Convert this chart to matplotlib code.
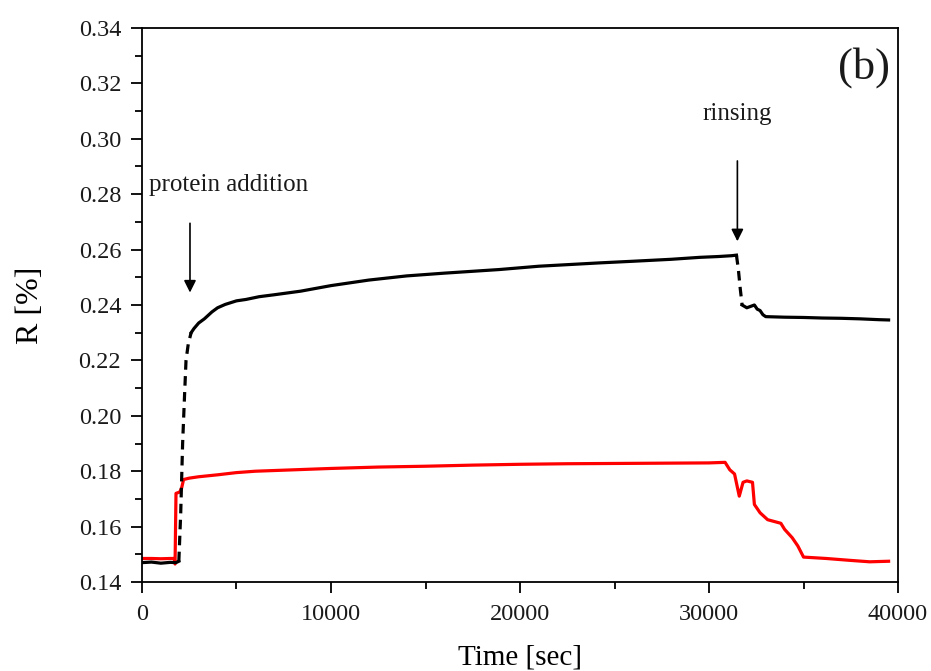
import matplotlib.pyplot as plt
import numpy as np
from matplotlib.ticker import MultipleLocator

plt.rcParams['font.family'] = ['Liberation Serif', 'DejaVu Serif']
plt.rcParams['text.color'] = '#1a1a1a'

# black curve
t_black = [0, 500, 1000, 1500, 1800, 1950]
r_black = [0.1470, 0.1472, 0.1468, 0.1471, 0.1470, 0.1475]
# steep rise (drawn dashed in the original)
t_rise = [1950, 2050, 2150, 2250, 2330, 2450, 2600]
r_rise = [0.1475, 0.165, 0.190, 0.207, 0.220, 0.226, 0.230]
t_black2 = [2600, 2750, 3000, 3300, 3700, 4000, 4400, 5000, 5500, 6200, 7000, 8400,
            10000, 12000, 14000, 16000, 18900, 21000, 24200, 26000, 28000, 29500,
            30500, 31200, 31450]
r_black2 = [0.230, 0.2315, 0.2335, 0.235, 0.2375, 0.2390, 0.2402, 0.2415, 0.2420,
            0.2430, 0.2437, 0.2450, 0.2470, 0.2490, 0.2505, 0.2515, 0.2528, 0.2540,
            0.2552, 0.2558, 0.2565, 0.2572, 0.2575, 0.2578, 0.2580]
# drop after rinsing
t_drop = [31450, 31550, 31650, 31750]
r_drop = [0.2580, 0.2530, 0.2460, 0.2400]
t_black3 = [31750, 32000, 32200, 32400, 32550, 32700, 32850, 33000, 33500, 34000,
            35000, 36000, 37000, 38000, 39000, 39500]
r_black3 = [0.2400, 0.2390, 0.2395, 0.2400, 0.2385, 0.2380, 0.2365, 0.2358, 0.2357,
            0.2356, 0.2355, 0.2353, 0.2352, 0.2350, 0.2347, 0.2346]

# red curve
t_red = [0, 500, 1000, 1500, 1700, 1750, 1800, 2000, 2100, 2200, 2500, 3000, 4000,
         5000, 6000, 8000, 10000, 12500, 15000, 17500, 20000, 22500, 25000, 27500,
         30000, 30850, 31100, 31350, 31600, 31800, 32000, 32300, 32400, 32700, 33100,
         33800, 34000, 34400, 34700, 35000, 36200, 37500, 38500, 39500]
r_red = [0.1485, 0.1485, 0.1484, 0.1485, 0.1485, 0.1465, 0.1720, 0.1725, 0.1740,
         0.1770, 0.1775, 0.1780, 0.1787, 0.1795, 0.1800, 0.1805, 0.1810, 0.1815,
         0.1818, 0.1822, 0.1825, 0.1827, 0.1828, 0.1829, 0.1830, 0.1832, 0.1805,
         0.1790, 0.1710, 0.1760, 0.1765, 0.1760, 0.1680, 0.1650, 0.1625, 0.1612,
         0.1590, 0.1560, 0.1530, 0.1490, 0.1485, 0.1478, 0.1473, 0.1475]

fig = plt.figure(figsize=(9.31, 6.71), dpi=100)
ax = fig.add_axes([0.1525, 0.1326, 0.8121, 0.8257])

ax.plot(t_red, r_red, color='#ff0000', lw=2.3)
ax.plot(t_black, r_black, color='black', lw=2.3)
ax.plot(t_rise, r_rise, color='black', lw=2.3, ls=(0, (3, 2)))
ax.plot(t_black2, r_black2, color='black', lw=2.3)
ax.plot(t_drop, r_drop, color='black', lw=2.3, ls=(0, (3, 2)))
ax.plot(t_black3, r_black3, color='black', lw=2.3)

ax.set_xlim(0, 40000)
ax.set_ylim(0.14, 0.34)
ax.xaxis.set_major_locator(MultipleLocator(10000))
ax.xaxis.set_minor_locator(MultipleLocator(5000))
ax.yaxis.set_major_locator(MultipleLocator(0.02))
ax.yaxis.set_minor_locator(MultipleLocator(0.01))
ax.yaxis.set_major_formatter(plt.FormatStrFormatter('%.2f'))
ax.tick_params(which='both', direction='out', top=False, right=False, width=1.3,
               labelsize=17.5, labelcolor='#1a1a1a')
ax.tick_params(which='major', length=8)
ax.tick_params(axis='y', which='major', pad=7)
ax.tick_params(axis='x', which='major', pad=8)
ax.tick_params(which='minor', length=5)
for s in ax.spines.values():
    s.set_linewidth(1.3)

ax.set_xlabel('Time [sec]', fontsize=21)
ax.set_ylabel('R [%]', fontsize=23)
ax.xaxis.set_label_coords(0.5, -0.112)
ax.yaxis.set_label_coords(-0.128, 0.5)

ax.text(0.99, 0.965, '(b)', transform=ax.transAxes, ha='right', va='top', fontsize=32)

ax.annotate('', xy=(2540, 0.2435), xytext=(2540, 0.2705),
            arrowprops=dict(arrowstyle='-|>', color='black', lw=1.2, mutation_scale=18))
ax.text(4600, 0.2833, 'protein addition', ha='center', va='center', fontsize=18)
ax.annotate('', xy=(31500, 0.2620), xytext=(31500, 0.2930),
            arrowprops=dict(arrowstyle='-|>', color='black', lw=1.2, mutation_scale=18))
ax.text(31500, 0.3088, 'rinsing', ha='center', va='center', fontsize=18)

fig.savefig('out.png', dpi=100)
